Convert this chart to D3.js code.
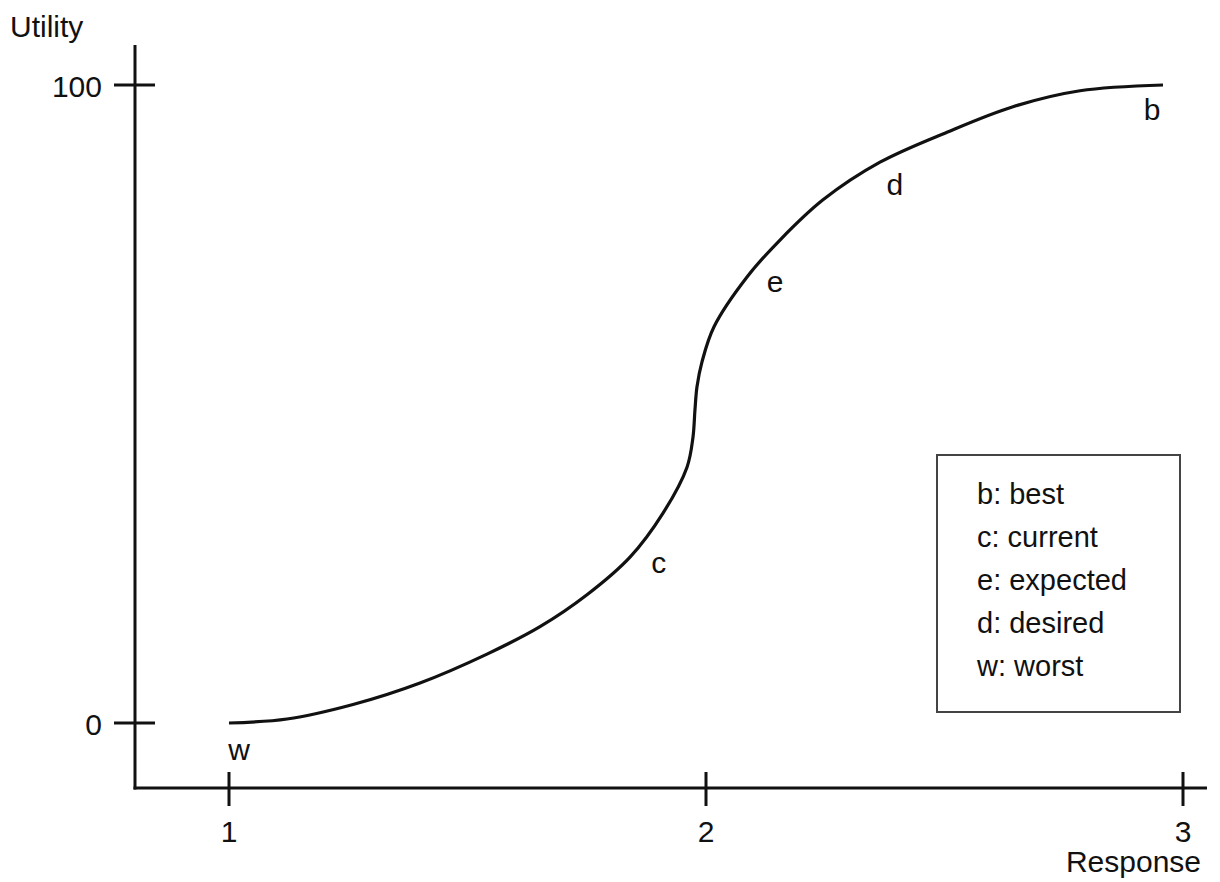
<!DOCTYPE html>
<html>
<head>
<meta charset="utf-8">
<script src="https://cdn.jsdelivr.net/npm/d3@7"></script>
<style>
  body { margin: 0; background: #fff; }
  text { font-family: "Liberation Sans", Arial, sans-serif; fill: #111; }
</style>
</head>
<body>
<svg id="chart"></svg>
<script>
// utility curve (response, utility)
let curveX = [1.0, 1.1216, 1.260, 1.4004, 1.5409, 1.652, 1.7505, 1.8407, 1.9099, 1.9602, 1.9727, 1.9769, 1.9811, 1.9916, 2.0168, 2.086, 2.1551, 2.2453, 2.3648, 2.5052, 2.6436, 2.7841, 2.9581];
let curveY = [0, 0.63, 2.9, 6.27, 10.8, 15.1, 20.1, 26.0, 32.9, 40.1, 44.8, 49.1, 52.7, 56.6, 62.1, 69.9, 75.7, 82.0, 87.9, 92.6, 96.6, 99.1, 100];

let xTicks = [1, 2, 3];
let yTicks = [0, 100];

// point labels on the curve
let pointNames = ["b", "d", "e", "c", "w"];
let pointX = [2.935, 2.396, 2.145, 1.901, 1.021];
let pointY = [94.5, 82.8, 67.6, 23.5, -5.8];

let legendItems = ["b: best", "c: current", "e: expected", "d: desired", "w: worst"];

let width = 1220, height = 882;
let svg = d3.select('#chart').attr("width", width).attr("height", height);

let x = d3.scaleLinear().domain([1, 3]).range([229, 1183]);
let y = d3.scaleLinear().domain([0, 100]).range([723, 85]);

let axisX0 = 135, axisY0 = 788;
let stroke = "#111";

// axes
svg.append("line")
    .attr("x1", axisX0).attr("x2", axisX0)
    .attr("y1", 45).attr("y2", axisY0 + 1.5)
    .attr("stroke", stroke).attr("stroke-width", 3);
svg.append("line")
    .attr("x1", axisX0 - 1.5).attr("x2", 1207)
    .attr("y1", axisY0).attr("y2", axisY0)
    .attr("stroke", stroke).attr("stroke-width", 3);

// x ticks
svg.selectAll(".xtick").data(xTicks).enter().append("line")
    .attr("x1", d => x(d)).attr("x2", d => x(d))
    .attr("y1", axisY0 - 16).attr("y2", axisY0 + 18)
    .attr("stroke", stroke).attr("stroke-width", 3);
svg.selectAll(".xlab").data(xTicks).enter().append("text")
    .attr("x", d => x(d)).attr("y", 842)
    .attr("text-anchor", "middle")
    .style("font-size", "30px")
    .text(d => d);

// y ticks
svg.selectAll(".ytick").data(yTicks).enter().append("line")
    .attr("x1", axisX0 - 21).attr("x2", axisX0 + 20)
    .attr("y1", d => y(d)).attr("y2", d => y(d))
    .attr("stroke", stroke).attr("stroke-width", 3);
svg.selectAll(".ylab").data(yTicks).enter().append("text")
    .attr("x", 102).attr("y", d => y(d) + 12)
    .attr("text-anchor", "end")
    .style("font-size", "30px")
    .text(d => d);

// axis titles
svg.append("text").attr("x", 10).attr("y", 37)
    .style("font-size", "30px").text("Utility");
svg.append("text").attr("x", 1201).attr("y", 872)
    .attr("text-anchor", "end")
    .style("font-size", "30px").text("Response");

// curve
let pts = curveX.map((d, i) => [d, curveY[i]]);
let line = d3.line()
    .x(d => x(d[0]))
    .y(d => y(d[1]))
    .curve(d3.curveCatmullRom.alpha(0.5));
svg.append("path")
    .attr("d", line(pts))
    .attr("fill", "none")
    .attr("stroke", stroke)
    .attr("stroke-width", 3.2);

// point labels
svg.selectAll(".plab").data(pointNames).enter().append("text")
    .attr("x", (d, i) => x(pointX[i]))
    .attr("y", (d, i) => y(pointY[i]))
    .attr("text-anchor", "middle")
    .style("font-size", "30px")
    .text(d => d);

// legend box
svg.append("rect")
    .attr("x", 937).attr("y", 455)
    .attr("width", 243).attr("height", 257)
    .attr("fill", "none")
    .attr("stroke", "#444").attr("stroke-width", 2);
svg.selectAll(".leg").data(legendItems).enter().append("text")
    .attr("x", 977)
    .attr("y", (d, i) => 504 + i * 43)
    .style("font-size", "29px")
    .text(d => d);
</script>
</body>
</html>
